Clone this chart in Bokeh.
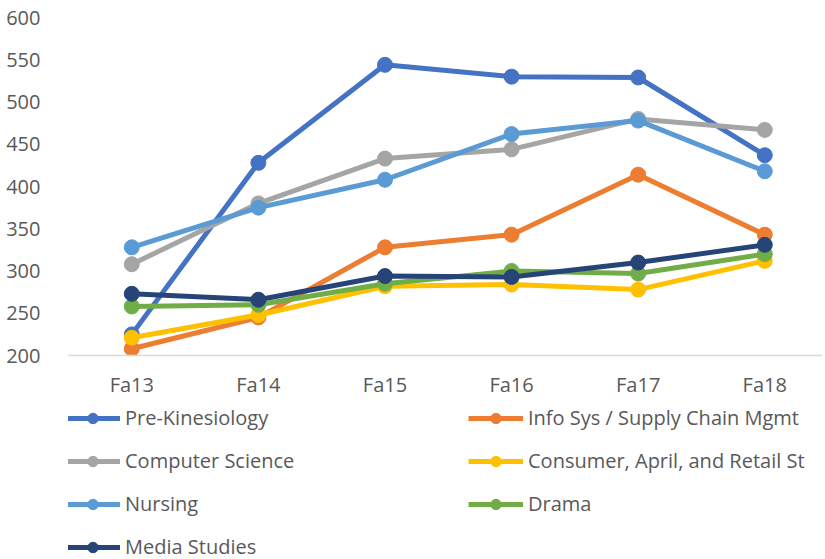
from bokeh.plotting import figure
from bokeh.models import Range1d, FixedTicker, Legend, LegendItem
from bokeh.layouts import column
from bokeh.embed import file_html
from bokeh.resources import INLINE

periods = ["Fa13", "Fa14", "Fa15", "Fa16", "Fa17", "Fa18"]
y_ticks = [200, 250, 300, 350, 400, 450, 500, 550, 600]

series_names = [
    "Pre-Kinesiology",
    "Info Sys / Supply Chain Mgmt",
    "Computer Science",
    "Consumer, April, and Retail St",
    "Nursing",
    "Drama",
    "Media Studies",
]
pre_kinesiology = [225, 428, 544, 530, 529, 437]
info_sys = [208, 245, 328, 343, 414, 343]
computer_science = [308, 380, 433, 444, 480, 467]
consumer = [221, 248, 282, 284, 278, 312]
nursing = [328, 375, 408, 462, 478, 418]
drama = [258, 260, 285, 300, 297, 320]
media_studies = [273, 266, 294, 293, 310, 331]
series_values = [pre_kinesiology, info_sys, computer_science, consumer,
                 nursing, drama, media_studies]
colors = ["#4472C4", "#ED7D31", "#A5A5A5", "#FFC000", "#5B9BD5", "#70AD47", "#264478"]

FONT = "Open Sans"
TXT = "#595959"
LW = 5
MS = 15

xs = list(range(len(periods)))

p = figure(width=822, height=400, output_backend="svg", toolbar_location=None,
           x_range=Range1d(-0.5, 5.456), y_range=Range1d(200, 600),
           min_border_left=68, min_border_right=0, min_border_top=17, min_border_bottom=45,
           background_fill_color="white", border_fill_color="white")
p.outline_line_color = None
p.xgrid.visible = False
p.ygrid.visible = False

p.xaxis.ticker = FixedTicker(ticks=xs)
p.xaxis.major_label_overrides = {i: lab for i, lab in enumerate(periods)}
p.xaxis.axis_line_color = "#D9D9D9"
p.xaxis.axis_line_width = 1.5
p.xaxis.major_tick_line_color = None
p.xaxis.minor_tick_line_color = None
p.xaxis.major_label_standoff = 9
p.xaxis.major_label_text_font = FONT
p.xaxis.major_label_text_font_size = "20px"
p.xaxis.major_label_text_color = TXT

p.yaxis.ticker = FixedTicker(ticks=y_ticks)
p.yaxis.axis_line_color = None
p.yaxis.major_tick_line_color = None
p.yaxis.minor_tick_line_color = None
p.yaxis.major_label_standoff = 22
p.yaxis.major_label_text_font = FONT
p.yaxis.major_label_text_font_size = "20px"
p.yaxis.major_label_text_color = TXT

for name, vals, c in zip(series_names, series_values, colors):
    p.line(xs, vals, line_color=c, line_width=LW)
    p.scatter(xs, vals, size=MS, fill_color=c, line_color=c)

# Legend panel: a second figure below the chart, holding style-only
# placeholder renderers (NaN data, nothing drawn) for the legend swatches.
lf = figure(width=822, height=159, output_backend="svg", toolbar_location=None,
            min_border=0, x_axis_type=None, y_axis_type=None,
            x_range=Range1d(0, 1), y_range=Range1d(0, 1),
            background_fill_color="white", border_fill_color="white")
lf.outline_line_color = None
lf.xgrid.visible = False
lf.ygrid.visible = False

nan = float("nan")
items = []
for name, c in zip(series_names, colors):
    lr = lf.line(x=[nan], y=[nan], line_color=c, line_width=LW)
    sr = lf.scatter(x=[nan], y=[nan], size=MS, fill_color=c, line_color=c)
    items.append(LegendItem(label=name, renderers=[lr, sr]))

# column-major fill: left column gets items 0,2,4,6 ; right column 1,3,5
ordered = items[0::2] + items[1::2]

legend = Legend(items=ordered, ncols=2, location=(-3, -1),
                glyph_width=55, glyph_height=26, label_height=26,
                label_width=327, spacing=16, label_standoff=5,
                margin=0, padding=0,
                label_text_font=FONT, label_text_font_size="20px",
                label_text_color=TXT,
                border_line_color=None, background_fill_alpha=0)
lf.add_layout(legend, "center")

layout = column(p, lf, spacing=0)
open("out.html", "w").write(file_html(layout, INLINE))
